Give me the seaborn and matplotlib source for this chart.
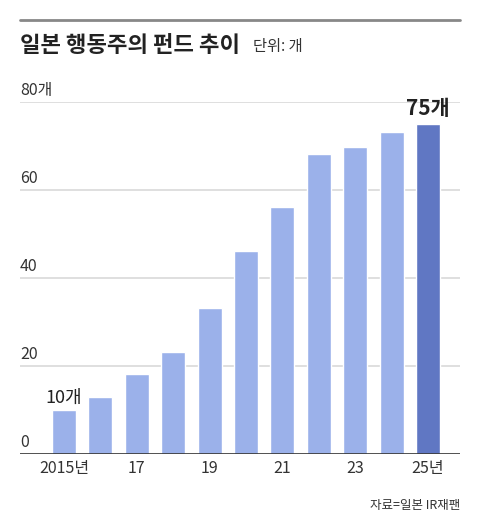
import matplotlib
matplotlib.use("Agg")
import matplotlib.pyplot as plt
import seaborn as sns
import pandas as pd

years = [2015, 2016, 2017, 2018, 2019, 2020, 2021, 2022, 2023, 2024, 2025]
funds = [10, 13, 18.2, 23.2, 33.2, 46.2, 56.1, 68.2, 69.7, 73.1, 75]
tick_labels = ["2015년", "", "17", "", "19", "", "21", "", "23", "", "25년"]
colors = ["#8eabf7"] * 10 + ["#4f6fd3"]

sns.set_style("white")
plt.rcParams['font.family'] = ['Noto Sans CJK KR', 'DejaVu Sans']

df = pd.DataFrame({"year": [str(y) for y in years], "funds": funds})

fig = plt.figure(figsize=(4.8, 5.3), dpi=100)
ax = fig.add_axes([20 / 480, 1 - 454 / 530, 440 / 480, 352 / 530])
sns.barplot(data=df, x="year", y="funds", hue="year", palette=colors,
            legend=False, width=0.66, ax=ax, zorder=3)
ax.set_xlim(-1.21, 10.88)
ax.set_ylim(0, 80)
for v in [20, 40, 60, 80]:
    ax.axhline(v, color="#d9d9d9", lw=1.2, zorder=1)
ax.axhline(0, color="#333333", lw=1.2, zorder=4)
for v in [0, 20, 40, 60]:
    ax.text(-1.21, v + 1.5, str(v), fontsize=11.5, color="#333333")
ax.text(-1.21, 80 + 1.5, "80개", fontsize=11.5, color="#333333")
ax.text(0, funds[0] + 1.5, "10개", fontsize=13, ha="center", color="#222222")
ax.text(10, funds[-1] + 2, "75개", fontsize=15, ha="center",
        fontweight="bold", color="#222222")
ax.set_xticks(range(len(years)))
ax.set_xticklabels(tick_labels, fontsize=11.5, color="#333333")
ax.tick_params(axis="x", length=0, pad=4)
ax.set_yticks([])
ax.set_xlabel("")
ax.set_ylabel("")
sns.despine(ax=ax, left=True, bottom=True)

fig.add_artist(plt.Line2D([20 / 480, 460 / 480], [1 - 20 / 530] * 2,
                          color="#888888", lw=2))
fig.text(20 / 480, 1 - 46 / 530, "일본 행동주의 펀드 추이", fontsize=16,
         fontweight="bold", va="center", color="#222222")
fig.text(253 / 480, 1 - 46 / 530, "단위: 개", fontsize=11, va="center",
         color="#333333")
fig.text(460 / 480, 1 - 505 / 530, "자료=일본 IR재팬", fontsize=9,
         ha="right", va="center", color="#333333")

fig.savefig("out.png", dpi=100)
